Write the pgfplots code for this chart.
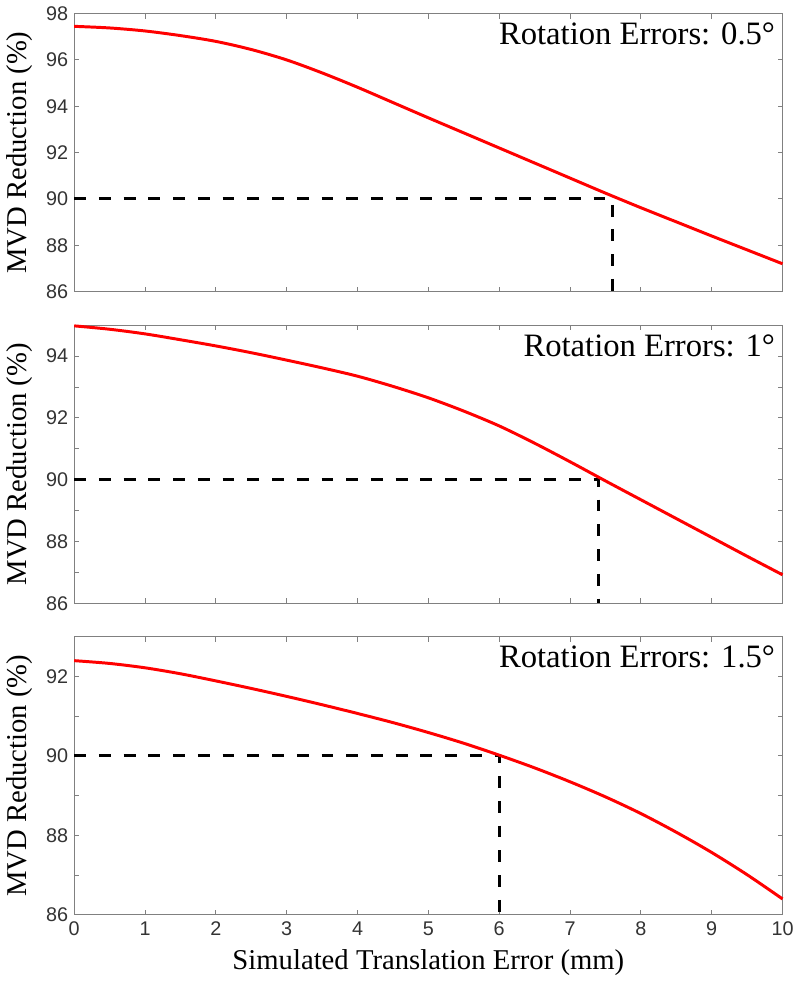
\documentclass[border=0pt]{standalone}
\usepackage{fontspec}
\setmainfont{Liberation Serif}
\newfontfamily\ticksans{Liberation Sans}
\usepackage{pgfplots}
\pgfplotsset{compat=1.18}

\pgfplotsset{
  mvd/.style={
    scale only axis, width=358pt, height=140.5pt,
    xmin=0, xmax=10, xtick={0,...,10},
    tick align=inside, major tick length=2.5pt,
    axis line style={black!50}, tick style={black!50, line width=0.5pt},
    /pgf/number format/assume math mode=true,
    every tick label/.append style={font=\fontsize{10}{11}\selectfont\ticksans, text=black!80},
    yticklabel style={xshift=0.5pt},
    ylabel={MVD Reduction (\%)},
    every axis y label/.append style={font=\fontsize{14.5}{16}\selectfont},
    every axis x label/.append style={font=\fontsize{14.5}{16}\selectfont},
    clip=false,
  },
  curve/.style={red, line width=1.5pt, smooth},
  guide/.style={black, line width=1.5pt, dash pattern=on 6pt off 6.5pt},
}
\tikzset{tag/.style={anchor=north east, inner sep=0pt, font=\fontsize{16.5}{18}\selectfont}}

\begin{document}
\begin{tikzpicture}
% rotation error 0.5 deg
\begin{axis}[mvd, at={(0,315pt)}, ymin=86, ymax=98, ytick={86,88,...,98}, xticklabels={}]
\addplot[guide] coordinates {(0,90) (7.6,90) (7.6,86)};
\addplot[curve] coordinates {
(0,97.45) (0.5,97.38) (1,97.25) (1.5,97.05) (2,96.8) (2.5,96.45) (3,96.0)
(3.5,95.44) (4,94.82) (4.5,94.16) (5,93.5) (5.5,92.85) (6,92.2) (6.5,91.55)
(7,90.9) (7.5,90.25) (8,89.62) (8.5,89.01) (9,88.4) (9.5,87.8) (10,87.2)};
\node[tag] at (rel axis cs:0.99,0.968) {Rotation Errors: 0.5°};
\end{axis}
% rotation error 1 deg
\begin{axis}[mvd, at={(0,157.5pt)}, ymin=86, ymax=95, ytick={86,...,95},
  yticklabels={86,,88,,90,,92,,94,}, xticklabels={}]
\addplot[guide] coordinates {(0,90) (7.4,90) (7.4,86)};
\addplot[curve] coordinates {
(0,94.98) (0.5,94.87) (1,94.72) (1.5,94.53) (2,94.33) (2.5,94.11) (3,93.87)
(3.5,93.62) (4,93.35) (4.5,93.02) (5,92.65) (5.5,92.22) (6,91.74) (6.5,91.18)
(7,90.58) (7.5,89.96) (8,89.35) (8.5,88.74) (9,88.13) (9.5,87.52) (10,86.92)};
\node[tag] at (rel axis cs:0.99,0.968) {Rotation Errors: 1°};
\end{axis}
% rotation error 1.5 deg
\begin{axis}[mvd, at={(0,0)}, ymin=86, ymax=93, ytick={86,...,93},
  yticklabels={86,,88,,90,,92,}, xlabel={Simulated Translation Error (mm)}]
\addplot[guide] coordinates {(0,90) (6,90) (6,86)};
\addplot[curve] coordinates {
(0,92.40) (0.5,92.33) (1,92.22) (1.5,92.07) (2,91.89) (2.5,91.7) (3,91.5)
(3.5,91.29) (4,91.07) (4.5,90.84) (5,90.59) (5.5,90.32) (6,90.02) (6.5,89.70)
(7,89.35) (7.5,88.97) (8,88.55) (8.5,88.08) (9,87.57) (9.5,87.01) (10,86.4)};
\node[tag] at (rel axis cs:0.99,0.968) {Rotation Errors: 1.5°};
\end{axis}
\end{tikzpicture}
\end{document}
